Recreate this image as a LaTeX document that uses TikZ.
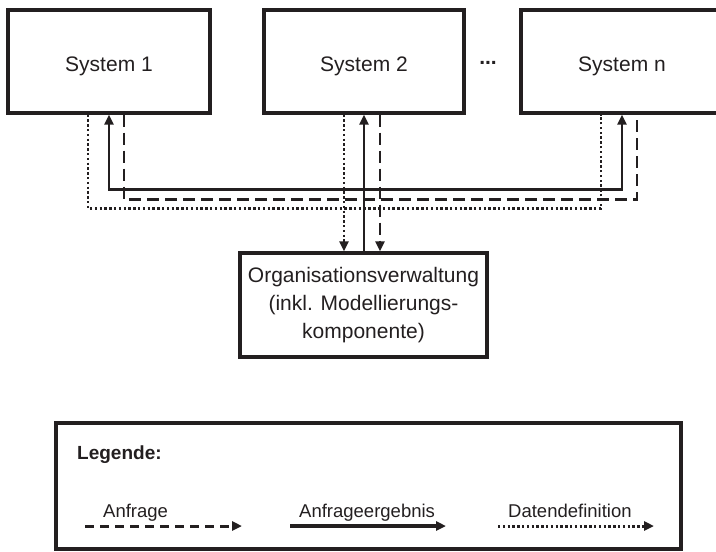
\documentclass[tikz,border=0pt]{standalone}
\usepackage{fontspec}
\setmainfont{Liberation Sans}
\usetikzlibrary{arrows.meta,calc}
\definecolor{ink}{HTML}{231F20}
\newcommand{\lowtxt}[2]{\raisebox{-#1}[\height][\depth]{#2}}
\begin{document}
\begin{tikzpicture}[x=1pt,y=-1pt,
  box/.style={draw=ink,line width=3.2pt,inner sep=0pt,text=ink,font=\fontsize{21}{28}\selectfont},
  res/.style={draw=ink,line width=2.6pt},
  req/.style={draw=ink,line width=2.6pt,dash pattern=on 12pt off 6pt},
  def/.style={draw=ink,line width=2.6pt,dash pattern=on 2.4pt off 2.4pt},
  tip/.style={-{Triangle[length=10pt,width=9pt]}},
  lbl/.style={text=ink,inner sep=0pt,font=\fontsize{18.5}{22}\selectfont}]
\useasboundingbox (0,0) rectangle (716,552);
\begin{scope}
\clip (0,0) rectangle (716,552);
% systems
\node[box,minimum width=202pt,minimum height=103pt] (s1) at (109,61.5) {\lowtxt{5pt}{System 1}};
\node[box,minimum width=200pt,minimum height=103pt] (s2) at (364,61.5) {\lowtxt{5pt}{System 2}};
\node[box,minimum width=202pt,minimum height=103pt] (sn) at (622,61.5) {\lowtxt{5pt}{System n}};
\node[text=ink,font=\fontsize{21}{24}\selectfont\bfseries] (dots) at (488,63) {...};
% organisation
\node[box,minimum width=247pt,minimum height=104pt,align=center] (org) at (363.5,305)
  {Organisationsverwaltung\\(inkl. Modellierungs-\\komponente)};
\coordinate (o2) at (s2.south |- org.north);
% Datendefinition (dotted)
\draw[def] ([xshift=-21pt]s1.south) -- ++(0,94) -| ([xshift=-21pt]sn.south);
\draw[def,tip] ([xshift=-20pt]s2.south) -- ([xshift=-20pt]o2);
% Anfrage (dashed)
\draw[req] ([xshift=15pt]s1.south) -- ++(0,85) -| ([xshift=15pt]sn.south);
\draw[req,tip] ([xshift=16pt]s2.south) -- ([xshift=16pt]o2);
% Anfrageergebnis (solid)
\draw[res,{Triangle[length=10pt,width=9pt]}-{Triangle[length=10pt,width=9pt]}] (s1.south) -- ++(0,75) -| (sn.south);
\draw[res,tip] (o2) -- (s2.south);
% legend
\node[box,minimum width=625pt,minimum height=126pt] (leg) at (368.5,486) {};
\node[lbl,anchor=west,font=\fontsize{19}{22}\selectfont\bfseries] (lt) at (77,455) {Legende:};
\coordinate (a1) at (85,526);
\coordinate (a2) at (242,526);
\coordinate (b1) at (290,526);
\coordinate (b2) at (446,526);
\coordinate (c1) at (498,526);
\coordinate (c2) at (654,526);
\draw[req,line width=3pt,dash pattern=on 9pt off 6pt,tip] (a1) -- (a2);
\draw[res,line width=3.2pt,tip] (b1) -- (b2);
\draw[def,line width=3pt,tip] (c1) -- (c2);
\node[lbl,anchor=base west] (la) at (103,517) {Anfrage};
\node[lbl,anchor=base west] (lb) at (299,517) {Anfrageergebnis};
\node[lbl,anchor=base west] (lc) at (508,517) {Datendefinition};
\end{scope}
\end{tikzpicture}
\end{document}
